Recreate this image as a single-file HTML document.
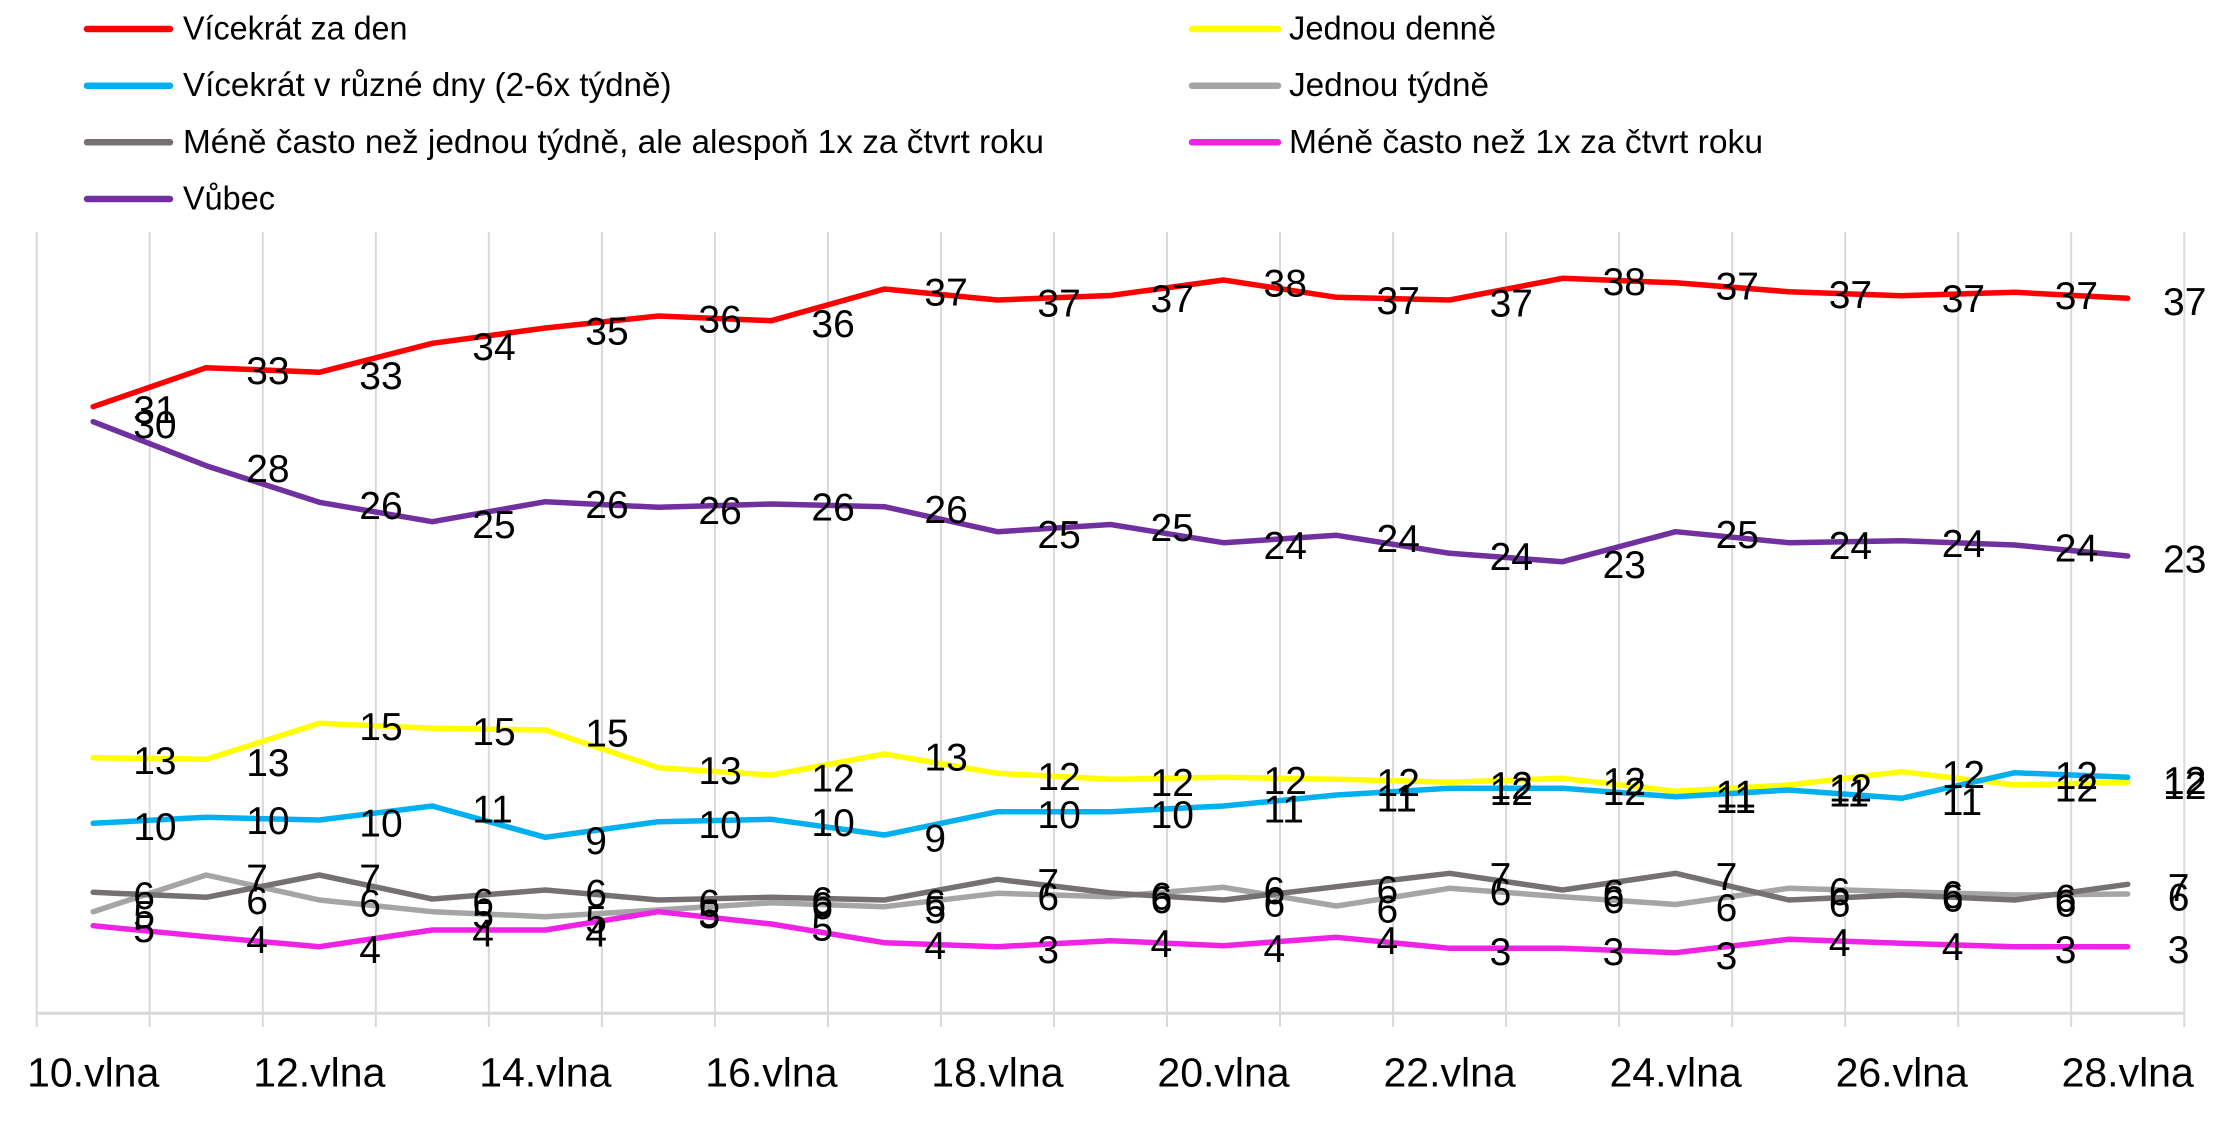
<!DOCTYPE html>
<html><head><meta charset="utf-8"><style>
html,body{margin:0;padding:0;background:#fff;}
svg{display:block;}
text{font-family:"Liberation Sans",sans-serif;fill:#000;}
.lg{font-size:33px;}
.ax{font-size:41px;}
.dl{font-size:39px;}
</style></head><body>
<svg width="2219" height="1125" viewBox="0 0 2219 1125" xmlns="http://www.w3.org/2000/svg">
<rect width="2219" height="1125" fill="#fff"/>
<!-- legend -->
<g stroke-width="6.5" stroke-linecap="round">
<line x1="87" y1="29" x2="170" y2="29" stroke="#FF0000"/>
<line x1="87" y1="85.7" x2="170" y2="85.7" stroke="#00B0F0"/>
<line x1="87" y1="142.3" x2="170" y2="142.3" stroke="#767171"/>
<line x1="87" y1="199" x2="170" y2="199" stroke="#7030A0"/>
<line x1="1192" y1="29" x2="1278" y2="29" stroke="#FFFF00"/>
<line x1="1192" y1="85.7" x2="1278" y2="85.7" stroke="#A5A5A5"/>
<line x1="1192" y1="142.3" x2="1278" y2="142.3" stroke="#F022E6"/>
</g>
<text class="lg" x="183" y="39.5" textLength="224.5" lengthAdjust="spacingAndGlyphs">Vícekrát za den</text>
<text class="lg" x="183" y="96.2" textLength="488.5" lengthAdjust="spacingAndGlyphs">Vícekrát v různé dny (2-6x týdně)</text>
<text class="lg" x="183" y="152.8" textLength="861" lengthAdjust="spacingAndGlyphs">Méně často než jednou týdně, ale alespoň 1x za čtvrt roku</text>
<text class="lg" x="183" y="209.5" textLength="92" lengthAdjust="spacingAndGlyphs">Vůbec</text>
<text class="lg" x="1289" y="39.5" textLength="207" lengthAdjust="spacingAndGlyphs">Jednou denně</text>
<text class="lg" x="1289" y="96.2" textLength="200" lengthAdjust="spacingAndGlyphs">Jednou týdně</text>
<text class="lg" x="1289" y="152.8" textLength="474" lengthAdjust="spacingAndGlyphs">Méně často než 1x za čtvrt roku</text>

<!-- gridlines -->
<g stroke="#D9D9D9" stroke-width="2">
<line x1="36.7" y1="232" x2="36.7" y2="1027"/>
<line x1="149.7" y1="232" x2="149.7" y2="1027"/>
<line x1="262.8" y1="232" x2="262.8" y2="1027"/>
<line x1="375.8" y1="232" x2="375.8" y2="1027"/>
<line x1="488.8" y1="232" x2="488.8" y2="1027"/>
<line x1="601.9" y1="232" x2="601.9" y2="1027"/>
<line x1="714.9" y1="232" x2="714.9" y2="1027"/>
<line x1="827.9" y1="232" x2="827.9" y2="1027"/>
<line x1="940.9" y1="232" x2="940.9" y2="1027"/>
<line x1="1054" y1="232" x2="1054" y2="1027"/>
<line x1="1167" y1="232" x2="1167" y2="1027"/>
<line x1="1280" y1="232" x2="1280" y2="1027"/>
<line x1="1393.1" y1="232" x2="1393.1" y2="1027"/>
<line x1="1506.1" y1="232" x2="1506.1" y2="1027"/>
<line x1="1619.1" y1="232" x2="1619.1" y2="1027"/>
<line x1="1732.2" y1="232" x2="1732.2" y2="1027"/>
<line x1="1845.2" y1="232" x2="1845.2" y2="1027"/>
<line x1="1958.2" y1="232" x2="1958.2" y2="1027"/>
<line x1="2071.2" y1="232" x2="2071.2" y2="1027"/>
<line x1="2184.3" y1="232" x2="2184.3" y2="1027"/>
</g>
<line x1="36.7" y1="1013.3" x2="2184.3" y2="1013.3" stroke="#D9D9D9" stroke-width="3"/>

<!-- axis labels -->
<g class="ax" text-anchor="middle">
<text class="ax" x="93.2" y="1086.7">10.vlna</text>
<text class="ax" x="319.3" y="1086.7">12.vlna</text>
<text class="ax" x="545.3" y="1086.7">14.vlna</text>
<text class="ax" x="771.4" y="1086.7">16.vlna</text>
<text class="ax" x="997.4" y="1086.7">18.vlna</text>
<text class="ax" x="1223.5" y="1086.7">20.vlna</text>
<text class="ax" x="1449.6" y="1086.7">22.vlna</text>
<text class="ax" x="1675.6" y="1086.7">24.vlna</text>
<text class="ax" x="1901.7" y="1086.7">26.vlna</text>
<text class="ax" x="2127.7" y="1086.7">28.vlna</text>
</g>

<!-- series -->
<g fill="none" stroke-width="5.5" stroke-linejoin="round" stroke-linecap="round">
<polyline stroke="#FF0000" points="93.2,406.7 206.2,367.7 319.3,372.3 432.3,343.3 545.3,328 658.4,316 771.4,320.7 884.4,289 997.4,300 1110.5,295.5 1223.5,280 1336.5,297.3 1449.6,300 1562.6,278.3 1675.6,282.8 1788.7,291.7 1901.7,295.7 2014.7,292.3 2127.7,298.3"/>
<polyline stroke="#FFFF00" points="93.2,757.7 206.2,759.3 319.3,723.3 432.3,728.3 545.3,730 658.4,767.7 771.4,775 884.4,754 997.4,773.3 1110.5,779.3 1223.5,777.3 1336.5,779.3 1449.6,782.3 1562.6,778.3 1675.6,791.2 1788.7,785 1901.7,771.7 2014.7,785 2127.7,782.3"/>
<polyline stroke="#00B0F0" points="93.2,823.3 206.2,817.3 319.3,820 432.3,806 545.3,837.3 658.4,821.7 771.4,819.3 884.4,835 997.4,811.7 1110.5,811.7 1223.5,806 1336.5,795 1449.6,788.3 1562.6,788.3 1675.6,796.7 1788.7,790 1901.7,798.3 2014.7,772.7 2127.7,777.3"/>
<polyline stroke="#A5A5A5" points="93.2,911.7 206.2,875 319.3,900 432.3,911.7 545.3,916.7 658.4,910 771.4,902.7 884.4,906.7 997.4,893.3 1110.5,896.7 1223.5,887.3 1336.5,906 1449.6,888.3 1562.6,896.7 1675.6,904.5 1788.7,888.3 1901.7,891.7 2014.7,895 2127.7,894"/>
<polyline stroke="#767171" points="93.2,892.3 206.2,897.3 319.3,875 432.3,899 545.3,890 658.4,900 771.4,897.3 884.4,900 997.4,879.3 1110.5,893 1223.5,900 1336.5,886.7 1449.6,873.3 1562.6,890 1675.6,873.3 1788.7,900 1901.7,895 2014.7,900 2127.7,884.3"/>
<polyline stroke="#F022E6" points="93.2,925.7 206.2,936.7 319.3,946.7 432.3,930 545.3,930 658.4,911.7 771.4,924 884.4,942.7 997.4,946.7 1110.5,940.7 1223.5,945.7 1336.5,937.3 1449.6,948.3 1562.6,948.3 1675.6,952.7 1788.7,939.3 1901.7,943.3 2014.7,946.7 2127.7,946.7"/>
<polyline stroke="#7030A0" points="93.2,421.7 206.2,465.7 319.3,502.3 432.3,521.7 545.3,501.7 658.4,507.3 771.4,504 884.4,506.7 997.4,531.7 1110.5,524.5 1223.5,542.7 1336.5,535.3 1449.6,553.3 1562.6,561.7 1675.6,531.7 1788.7,542.7 1901.7,540.7 2014.7,545 2127.7,556"/>
</g>

<!-- data labels -->
<g class="dl">
<!-- red -->
<text class="dl" x="133.2" y="423.2">31</text>
<text class="dl" x="246.2" y="384.2">33</text>
<text class="dl" x="359.3" y="388.8">33</text>
<text class="dl" x="472.3" y="359.8">34</text>
<text class="dl" x="585.3" y="344.5">35</text>
<text class="dl" x="698.4" y="332.5">36</text>
<text class="dl" x="811.4" y="337.2">36</text>
<text class="dl" x="924.4" y="305.5">37</text>
<text class="dl" x="1037.4" y="316.5">37</text>
<text class="dl" x="1150.5" y="312">37</text>
<text class="dl" x="1263.5" y="296.5">38</text>
<text class="dl" x="1376.5" y="313.8">37</text>
<text class="dl" x="1489.6" y="316.5">37</text>
<text class="dl" x="1602.6" y="294.8">38</text>
<text class="dl" x="1715.6" y="299.3">37</text>
<text class="dl" x="1828.7" y="308.2">37</text>
<text class="dl" x="1941.7" y="312.2">37</text>
<text class="dl" x="2054.7" y="308.8">37</text>
<text class="dl" x="2163" y="314.8">37</text>
<!-- purple -->
<text class="dl" x="133.2" y="438.2">30</text>
<text class="dl" x="246.2" y="482.2">28</text>
<text class="dl" x="359.3" y="518.8">26</text>
<text class="dl" x="472.3" y="538.2">25</text>
<text class="dl" x="585.3" y="518.2">26</text>
<text class="dl" x="698.4" y="523.8">26</text>
<text class="dl" x="811.4" y="520.5">26</text>
<text class="dl" x="924.4" y="523.2">26</text>
<text class="dl" x="1037.4" y="548.2">25</text>
<text class="dl" x="1150.5" y="541">25</text>
<text class="dl" x="1263.5" y="559.2">24</text>
<text class="dl" x="1376.5" y="551.8">24</text>
<text class="dl" x="1489.6" y="569.8">24</text>
<text class="dl" x="1602.6" y="578.2">23</text>
<text class="dl" x="1715.6" y="548.2">25</text>
<text class="dl" x="1828.7" y="559.2">24</text>
<text class="dl" x="1941.7" y="557.2">24</text>
<text class="dl" x="2054.7" y="561.5">24</text>
<text class="dl" x="2163" y="572.5">23</text>
<!-- yellow -->
<text class="dl" x="133.2" y="774.2">13</text>
<text class="dl" x="246.2" y="775.8">13</text>
<text class="dl" x="359.3" y="739.8">15</text>
<text class="dl" x="472.3" y="744.8">15</text>
<text class="dl" x="585.3" y="746.5">15</text>
<text class="dl" x="698.4" y="784.2">13</text>
<text class="dl" x="811.4" y="791.5">12</text>
<text class="dl" x="924.4" y="770.5">13</text>
<text class="dl" x="1037.4" y="789.8">12</text>
<text class="dl" x="1150.5" y="795.8">12</text>
<text class="dl" x="1263.5" y="793.8">12</text>
<text class="dl" x="1376.5" y="795.8">12</text>
<text class="dl" x="1489.6" y="798.8">12</text>
<text class="dl" x="1602.6" y="794.8">12</text>
<text class="dl" x="1715.6" y="807.7">11</text>
<text class="dl" x="1828.7" y="801.5">12</text>
<text class="dl" x="1941.7" y="788.2">12</text>
<text class="dl" x="2054.7" y="801.5">12</text>
<text class="dl" x="2163" y="798.8">12</text>
<!-- blue -->
<text class="dl" x="133.2" y="839.8">10</text>
<text class="dl" x="246.2" y="833.8">10</text>
<text class="dl" x="359.3" y="836.5">10</text>
<text class="dl" x="472.3" y="822.5">11</text>
<text class="dl" x="585.3" y="853.8">9</text>
<text class="dl" x="698.4" y="838.2">10</text>
<text class="dl" x="811.4" y="835.8">10</text>
<text class="dl" x="924.4" y="851.5">9</text>
<text class="dl" x="1037.4" y="828.2">10</text>
<text class="dl" x="1150.5" y="828.2">10</text>
<text class="dl" x="1263.5" y="822.5">11</text>
<text class="dl" x="1376.5" y="811.5">11</text>
<text class="dl" x="1489.6" y="804.8">12</text>
<text class="dl" x="1602.6" y="804.8">12</text>
<text class="dl" x="1715.6" y="813.2">11</text>
<text class="dl" x="1828.7" y="806.5">11</text>
<text class="dl" x="1941.7" y="814.8">11</text>
<text class="dl" x="2054.7" y="789.2">12</text>
<text class="dl" x="2163" y="793.8">12</text>
<!-- light gray -->
<text class="dl" x="133.2" y="928.2">5</text>
<text class="dl" x="246.2" y="891.5">7</text>
<text class="dl" x="359.3" y="916.5">6</text>
<text class="dl" x="472.3" y="928.2">5</text>
<text class="dl" x="585.3" y="933.2">5</text>
<text class="dl" x="698.4" y="926.5">5</text>
<text class="dl" x="811.4" y="919.2">6</text>
<text class="dl" x="924.4" y="923.2">5</text>
<text class="dl" x="1037.4" y="909.8">6</text>
<text class="dl" x="1150.5" y="913.2">6</text>
<text class="dl" x="1263.5" y="903.8">6</text>
<text class="dl" x="1376.5" y="922.5">6</text>
<text class="dl" x="1489.6" y="904.8">6</text>
<text class="dl" x="1602.6" y="913.2">6</text>
<text class="dl" x="1715.6" y="921">6</text>
<text class="dl" x="1828.7" y="904.8">6</text>
<text class="dl" x="1941.7" y="908.2">6</text>
<text class="dl" x="2054.7" y="911.5">6</text>
<text class="dl" x="2167.7" y="910.5">6</text>
<!-- dark gray -->
<text class="dl" x="133.2" y="908.8">6</text>
<text class="dl" x="246.2" y="913.8">6</text>
<text class="dl" x="359.3" y="891.5">7</text>
<text class="dl" x="472.3" y="915.5">6</text>
<text class="dl" x="585.3" y="906.5">6</text>
<text class="dl" x="698.4" y="916.5">6</text>
<text class="dl" x="811.4" y="913.8">6</text>
<text class="dl" x="924.4" y="916.5">6</text>
<text class="dl" x="1037.4" y="895.8">7</text>
<text class="dl" x="1150.5" y="909.5">6</text>
<text class="dl" x="1263.5" y="916.5">6</text>
<text class="dl" x="1376.5" y="903.2">6</text>
<text class="dl" x="1489.6" y="889.8">7</text>
<text class="dl" x="1602.6" y="906.5">6</text>
<text class="dl" x="1715.6" y="889.8">7</text>
<text class="dl" x="1828.7" y="916.5">6</text>
<text class="dl" x="1941.7" y="911.5">6</text>
<text class="dl" x="2054.7" y="916.5">6</text>
<text class="dl" x="2167.7" y="900.8">7</text>
<!-- pink -->
<text class="dl" x="133.2" y="942.2">5</text>
<text class="dl" x="246.2" y="953.2">4</text>
<text class="dl" x="359.3" y="963.2">4</text>
<text class="dl" x="472.3" y="946.5">4</text>
<text class="dl" x="585.3" y="946.5">4</text>
<text class="dl" x="698.4" y="928.2">5</text>
<text class="dl" x="811.4" y="940.5">5</text>
<text class="dl" x="924.4" y="959.2">4</text>
<text class="dl" x="1037.4" y="963.2">3</text>
<text class="dl" x="1150.5" y="957.2">4</text>
<text class="dl" x="1263.5" y="962.2">4</text>
<text class="dl" x="1376.5" y="953.8">4</text>
<text class="dl" x="1489.6" y="964.8">3</text>
<text class="dl" x="1602.6" y="964.8">3</text>
<text class="dl" x="1715.6" y="969.2">3</text>
<text class="dl" x="1828.7" y="955.8">4</text>
<text class="dl" x="1941.7" y="959.8">4</text>
<text class="dl" x="2054.7" y="963.2">3</text>
<text class="dl" x="2167.7" y="963.2">3</text>
</g>
</svg>
</body></html>
